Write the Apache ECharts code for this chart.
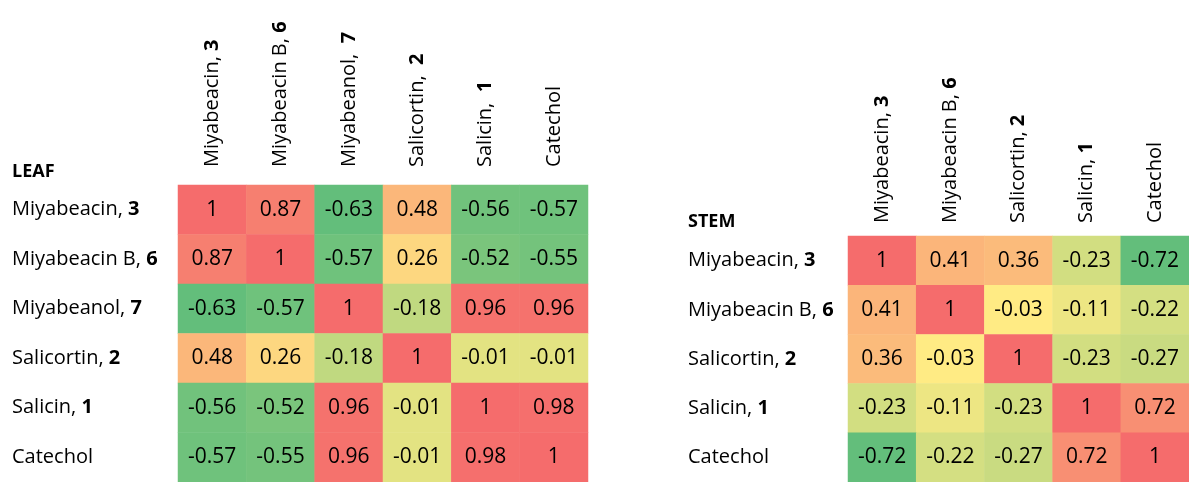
<!DOCTYPE html>
<html>
<head>
<meta charset="utf-8">
<script src="https://cdn.jsdelivr.net/npm/echarts@6/dist/echarts.min.js"></script>
<style>
html,body{margin:0;padding:0;background:#fff;}
#main{width:1189px;height:482px;}
</style>
</head>
<body>
<div id="main"></div>
<script>
// ---- data ----
var leafRowLabels = ['Miyabeacin, 3', 'Miyabeacin B, 6', 'Miyabeanol, 7', 'Salicortin, 2', 'Salicin, 1', 'Catechol'];
var leafColLabels = ['Miyabeacin, 3', 'Miyabeacin B, 6', 'Miyabeanol,  7', 'Salicortin,  2', 'Salicin,  1', 'Catechol'];
var leafValues = [
  [1, 0.87, -0.63, 0.48, -0.56, -0.57],
  [0.87, 1, -0.57, 0.26, -0.52, -0.55],
  [-0.63, -0.57, 1, -0.18, 0.96, 0.96],
  [0.48, 0.26, -0.18, 1, -0.01, -0.01],
  [-0.56, -0.52, 0.96, -0.01, 1, 0.98],
  [-0.57, -0.55, 0.96, -0.01, 0.98, 1]
];
var stemRowLabels = ['Miyabeacin, 3', 'Miyabeacin B, 6', 'Salicortin, 2', 'Salicin, 1', 'Catechol'];
var stemColLabels = ['Miyabeacin, 3', 'Miyabeacin B, 6', 'Salicortin, 2', 'Salicin, 1', 'Catechol'];
var stemValues = [
  [1, 0.41, 0.36, -0.23, -0.72],
  [0.41, 1, -0.03, -0.11, -0.22],
  [0.36, -0.03, 1, -0.23, -0.27],
  [-0.23, -0.11, -0.23, 1, 0.72],
  [-0.72, -0.22, -0.27, 0.72, 1]
];
var leafTitle = 'LEAF';
var stemTitle = 'STEM';

// ---- colour scale (green - yellow - red, midpoint = median) ----
var LOW = [99, 190, 123], MID = [255, 235, 132], HIGH = [245, 108, 108];
function median(arr) {
  var s = arr.slice().sort(function (a, b) { return a - b; });
  var n = s.length, h = (n - 1) / 2;
  return (s[Math.floor(h)] + s[Math.ceil(h)]) / 2;
}
function mix(a, b, t) {
  return 'rgb(' + a.map(function (v, i) { return Math.round(v + (b[i] - v) * t); }).join(',') + ')';
}
function scaleFor(matrix) {
  var flat = [].concat.apply([], matrix);
  var mn = Math.min.apply(null, flat), mx = Math.max.apply(null, flat), md = median(flat);
  return function (v) {
    if (v <= md) return mix(LOW, MID, (v - mn) / (md - mn));
    return mix(MID, HIGH, (v - md) / (mx - md));
  };
}
function toData(matrix) {
  var col = scaleFor(matrix), out = [];
  matrix.forEach(function (row, r) {
    row.forEach(function (v, c) {
      out.push({ value: [c, r, v], itemStyle: { color: col(v) } });
    });
  });
  return out;
}
function fmtLabel(s) {
  var m = s.match(/^(.*?)(\d)$/);
  if (!m) return '{n|' + s + '}';
  return '{n|' + m[1] + '}{b|' + m[2] + '}';
}

var FONT = '"Open Sans", sans-serif';
var FS = 20;
var CELL_FS = 21;
var rich = {
  n: { fontFamily: FONT, fontSize: FS, color: '#000' },
  b: { fontFamily: FONT, fontSize: FS, color: '#000', fontWeight: 'bold' }
};

function xAxisFor(labels, gi, margin) {
  return {
    type: 'category', data: labels, gridIndex: gi, position: 'top',
    axisLine: { show: false }, axisTick: { show: false }, splitLine: { show: false },
    axisLabel: { rotate: -90, interval: 0, margin: margin, formatter: fmtLabel, rich: rich }
  };
}
function yAxisFor(labels, gi, margin) {
  return {
    type: 'category', data: labels, gridIndex: gi, inverse: true,
    axisLine: { show: false }, axisTick: { show: false }, splitLine: { show: false },
    axisLabel: { interval: 0, align: 'left', margin: margin, formatter: fmtLabel, rich: rich }
  };
}
function seriesFor(matrix, gi) {
  return {
    type: 'heatmap', xAxisIndex: gi, yAxisIndex: gi, data: toData(matrix),
    label: {
      show: true, fontFamily: FONT, fontSize: CELL_FS, color: '#000',
      formatter: function (p) { return String(p.value[2]); }
    },
    emphasis: { disabled: true }, silent: true
  };
}

var chart = echarts.init(document.getElementById('main'), null, { renderer: 'canvas' });
chart.setOption({
  animation: false,
  backgroundColor: '#fff',
  title: [
    { text: leafTitle, left: 12, top: 163, padding: 0, textStyle: { fontFamily: FONT, fontSize: 18, fontWeight: 'bold', color: '#000' } },
    { text: stemTitle, left: 688, top: 213, padding: 0, textStyle: { fontFamily: FONT, fontSize: 18, fontWeight: 'bold', color: '#000' } }
  ],
  grid: [
    { left: 178, top: 185, width: 410, height: 298 },
    { left: 848, top: 236, width: 341, height: 248 }
  ],
  xAxis: [xAxisFor(leafColLabels, 0, 18), xAxisFor(stemColLabels, 1, 13)],
  yAxis: [yAxisFor(leafRowLabels, 0, 166), yAxisFor(stemRowLabels, 1, 160)],
  series: [seriesFor(leafValues, 0), seriesFor(stemValues, 1)]
});
</script>
</body>
</html>
